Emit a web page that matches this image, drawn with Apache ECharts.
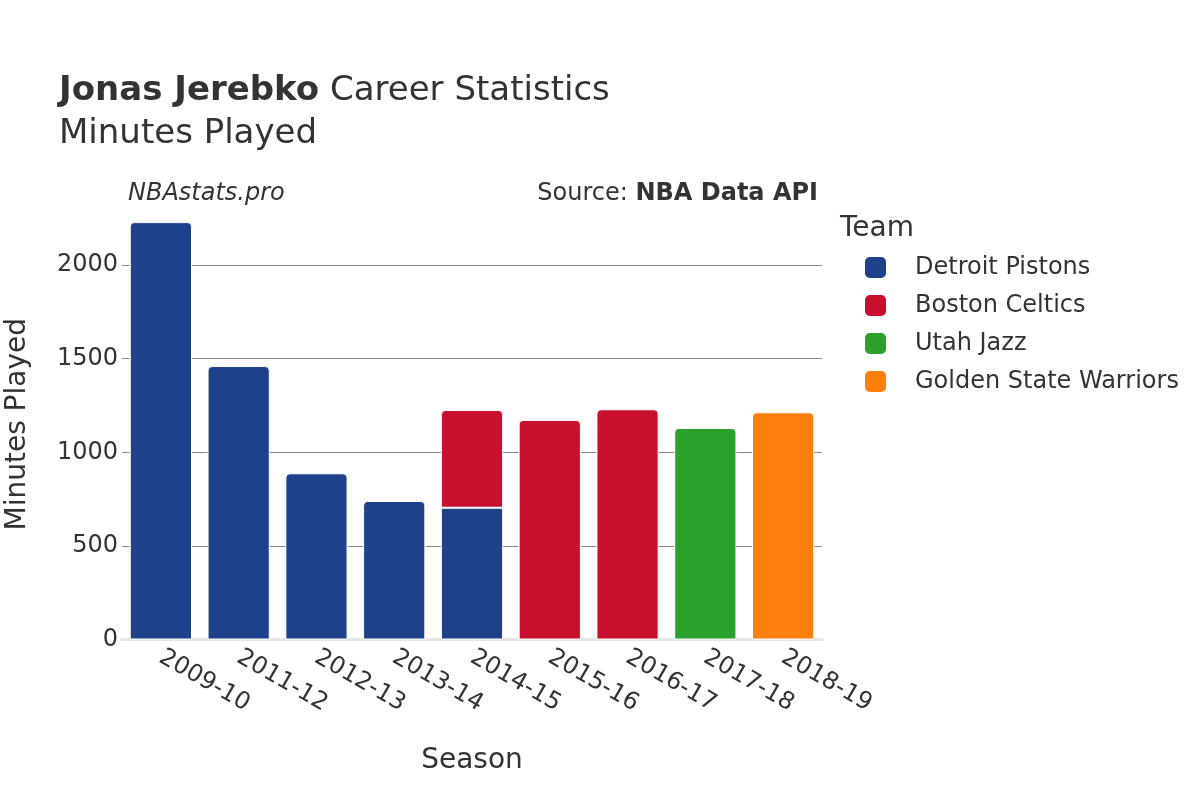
<!DOCTYPE html>
<html><head><meta charset="utf-8">
<script src="https://cdn.jsdelivr.net/npm/echarts@6/dist/echarts.min.js"></script>
<style>html,body{margin:0;padding:0;background:#fff}#c{width:1200px;height:800px}</style>
</head><body><div id="c"></div>
<script>
const seasons = ['2009-10','2011-12','2012-13','2013-14','2014-15','2015-16','2016-17','2017-18','2018-19'];
const teams = ['Detroit Pistons','Boston Celtics','Utah Jazz','Golden State Warriors'];
const teamColors = ['#1d428a','#c8102e','#2ca02c','#ff7f0e'];
const detroit = [2230, 1461, 888, 740, 704, null, null, null, null];
const boston  = [null, null, null, null, 522, 1173, 1230, null, null];
const utah    = [null, null, null, null, null, null, null, 1130, null];
const gsw     = [null, null, null, null, null, null, null, null, 1214];
const yTicks = [0, 500, 1000, 1500, 2000];
const seriesValues = [detroit, boston, utah, gsw];

// round only the top segment of each stacked column
function isTop(si, ci){
  for (let k = si + 1; k < seriesValues.length; k++) if (seriesValues[k][ci] != null) return false;
  return true;
}

const font = 'DejaVu Sans';
const chart = echarts.init(document.getElementById('c'), null, {renderer:'canvas'});
chart.setOption({
  backgroundColor:'#fff',
  textStyle:{fontFamily:font},
  animation:false,
  title:[
    {text:'{b|Jonas Jerebko} Career Statistics', left:54, top:69,
     textStyle:{fontSize:34, fontWeight:'normal', color:'#333', fontFamily:font,
       rich:{b:{fontSize:34, fontWeight:'bold', color:'#333', fontFamily:font}}}},
    {text:'Minutes Played', left:54, top:112, textStyle:{fontSize:34, fontWeight:'normal', color:'#333', fontFamily:font}},
    {text:'NBAstats.pro', left:123, top:177, textStyle:{fontSize:24, fontStyle:'italic', fontWeight:'normal', color:'#333', fontFamily:font}},
    {text:'Source: {b|NBA Data API}', right:377, top:177, textStyle:{fontSize:24, fontWeight:'normal', color:'#333', fontFamily:font,
       rich:{b:{fontSize:24, fontWeight:'bold', color:'#333', fontFamily:font}}}},
    {text:'Team', left:835, top:210, textStyle:{fontSize:28, fontWeight:'normal', color:'#333', fontFamily:font}}
  ],
  legend:{
    data:teams, orient:'vertical', left:858, top:250,
    itemWidth:23, itemHeight:23, itemGap:13, icon:'roundRect',
    textStyle:{fontSize:24, color:'#333', fontFamily:font, padding:[0,0,0,23]}
  },
  grid:{left:122, right:378, top:209, bottom:160.5, containLabel:false, outerBoundsMode:'none'},
  xAxis:{
    type:'category', data:seasons,
    name:'Season', nameLocation:'middle', nameGap:107,
    nameTextStyle:{fontSize:28, color:'#333', fontFamily:font},
    axisLine:{show:true, lineStyle:{color:'#e5e5e5', width:3}},
    axisTick:{show:false},
    axisLabel:{rotate:-30, fontSize:24, color:'#333', fontFamily:font, margin:16, interval:0}
  },
  yAxis:{
    type:'value', min:0, max:2300,
    name:'Minutes Played', nameLocation:'middle', nameGap:90, nameRotate:90,
    nameTextStyle:{fontSize:28, color:'#333', fontFamily:font},
    axisLine:{show:false},
    axisTick:{show:false, customValues:yTicks},
    axisLabel:{fontSize:24, color:'#333', fontFamily:font, margin:4, customValues:yTicks,
      formatter:v => String(v)},
    splitLine:{lineStyle:{color:'#888', width:1}}
  },
  series: teams.map((t,i)=>({
    name:t, type:'bar', stack:'total', barWidth:'80%',
    data: seriesValues[i].map((v,ci)=> v == null ? null : {
      value:v,
      itemStyle:{borderRadius: isTop(i,ci) ? [4,4,0,0] : 0}
    }),
    itemStyle:{color:teamColors[i], borderColor:'#fff', borderWidth:1}
  }))
});
</script></body></html>
